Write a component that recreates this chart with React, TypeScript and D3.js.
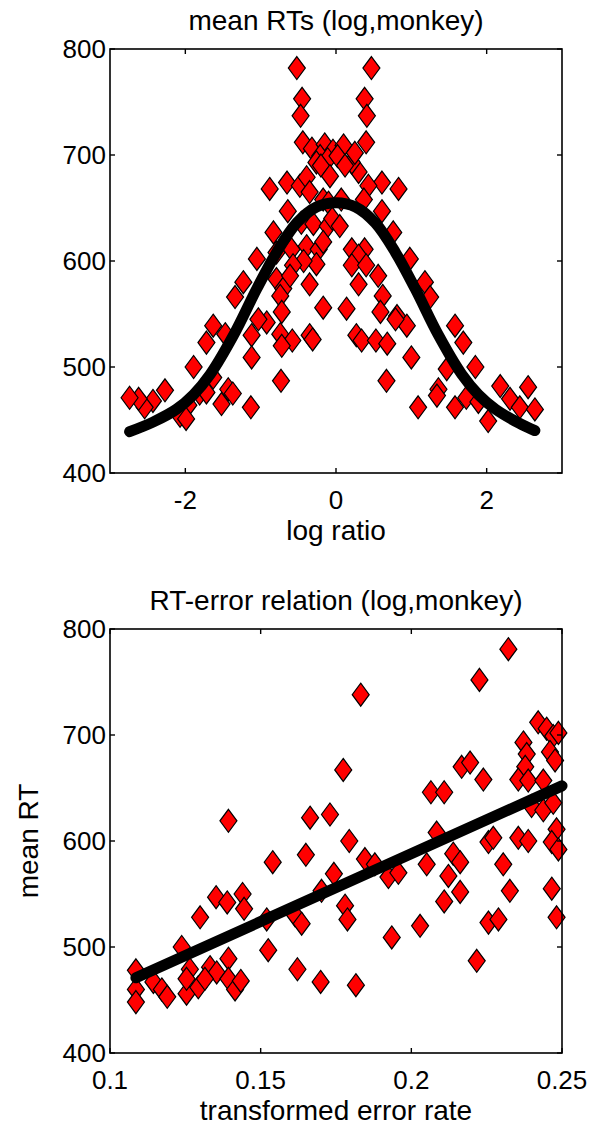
import React from "react";
import * as d3 from "d3";

// ---------- Top panel data: mean RT vs log ratio ----------
const topX = [
  -0.52, -0.45, -0.47, -0.44, -0.32, -0.15, -0.04, -0.21, -0.26, -0.11, -0.88, -0.65, -0.48, -0.39, -0.35, -0.17,
  -0.10, -0.64, -0.83, -0.46, -0.30, -0.11, -1.05, -0.79, -0.59, -0.39, -0.23, -0.26, -0.43, -0.57, -1.23, -1.34,
  -0.79, -0.70, -0.61, -0.35, -0.17, -0.74, -0.72, -0.92, -1.03, -1.63, -1.72, -1.47, -1.12, -0.74, -0.58, -0.35,
  -0.31, -0.72, -1.12, -1.89, -0.73, -1.63, -1.43, -1.37, -1.52, -1.81, -1.72, -1.96, -2.07, -1.99, -2.27, -2.43,
  -2.54, -2.62, -2.74, -1.13, -0.17, -0.05, -0.20, -0.08,
  0.47, 0.38, 0.41, 0.40, 0.10, 0.02, 0.30, 0.21, 0.61, 0.83, 0.43, 0.37, 0.61, 0.07, 0.05, 0.76,
  0.21, 0.38, 0.30, 0.98, 0.21, 0.40, 0.30, 0.56, 0.62, 1.18, 1.25, 0.14, 0.59, 0.81, 0.94, 0.27,
  0.34, 0.53, 0.68, 1.0, 1.58, 1.69, 1.47, 1.85, 0.67, 1.36, 1.34, 1.09, 1.58, 1.73, 1.89, 2.02,
  2.18, 2.31, 2.44, 2.55, 2.64, 0.79, 0.12, 0.25,
];
const topY = [
  782, 753, 737, 712, 706, 710, 704, 699, 693, 696, 668, 674, 671, 679, 665, 658,
  655, 647, 627, 636, 635, 633, 602, 608, 611, 614, 611, 597, 600, 596, 580, 566,
  583, 574, 586, 578, 556, 567, 552, 542, 545, 539, 523, 531, 530, 531, 525, 530,
  526, 520, 509, 500, 487, 490, 479, 475, 465, 475, 476, 464, 454, 451, 478, 468,
  462, 470, 471, 462, 618, 640, 690, 680,
  782, 753, 737, 712, 709, 699, 684, 693, 674, 668, 671, 658, 647, 658, 633, 627,
  611, 611, 605, 602, 596, 596, 578, 586, 567, 580, 566, 555, 552, 548, 539, 530,
  525, 525, 522, 509, 539, 523, 498, 500, 487, 479, 473, 462, 462, 471, 467, 449,
  482, 470, 462, 481, 460, 545, 690, 702,
];
const topFitX = [-2.74, -2.43, -2.12, -1.89, -1.67, -1.36, -1.05, -0.79, -0.52, -0.26, 0.0, 0.26, 0.52, 0.79, 1.05, 1.36, 1.67, 1.89, 2.12, 2.43, 2.64];
const topFitY = [439, 448, 460, 474, 493, 530, 574, 608, 636, 651, 655, 651, 636, 608, 574, 530, 493, 474, 460, 447, 440];

// ---------- Bottom panel data: mean RT vs transformed error rate ----------
const botX = [
  0.2322, 0.2226, 0.1832, 0.2421, 0.2449, 0.2471, 0.2488, 0.2372, 0.2383, 0.246, 0.2477, 0.2378, 0.1774, 0.2167, 0.2195, 0.2239,
  0.2355, 0.2388, 0.2438, 0.2065, 0.2109, 0.2399, 0.2438, 0.2471, 0.1393, 0.1664, 0.173, 0.2482, 0.2084, 0.1794, 0.2256, 0.2272,
  0.2355, 0.2388, 0.2466, 0.2488, 0.154, 0.165, 0.2139, 0.2162, 0.1846, 0.1879, 0.2051, 0.2305, 0.1743, 0.1924, 0.1957, 0.2123,
  0.2466, 0.2327, 0.2162, 0.1352, 0.1389, 0.144, 0.1445, 0.1702, 0.2109, 0.1299, 0.178, 0.1788, 0.152, 0.1614, 0.1636, 0.2256,
  0.2289, 0.2482, 0.2029, 0.1935, 0.1238, 0.1525, 0.1393, 0.2217, 0.1086, 0.1265, 0.1332, 0.1354, 0.1622, 0.1086, 0.1086, 0.1144,
  0.1172, 0.119, 0.1254, 0.1254, 0.1293, 0.1315, 0.1393, 0.1415, 0.1434, 0.1699, 0.1816,
];
const botY = [
  781, 752, 738, 712, 706, 699, 702, 693, 682, 684, 676, 670, 667, 670, 674, 658,
  658, 657, 657, 646, 646, 633, 629, 636, 619, 622, 625, 611, 608, 600, 599, 603,
  603, 600, 599, 592, 580, 587, 588, 580, 583, 578, 578, 578, 569, 566, 570, 567,
  555, 553, 552, 547, 542, 550, 536, 553, 543, 528, 539, 526, 526, 530, 522, 523,
  526, 528, 520, 509, 500, 497, 489, 487, 478, 479, 481, 476, 479, 460, 448, 467,
  460, 453, 456, 470, 462, 470, 470, 460, 468, 467, 464,
];
const botFitX = [0.1086, 0.25];
const botFitY = [471, 652];

// ---------- Axis ticks & labels ----------
const yTicks = [400, 500, 600, 700, 800];
const topXTicks = [-2, 0, 2];
const botXTicks = [0.1, 0.15, 0.2, 0.25];
const topTitle = "mean RTs (log,monkey)";
const topXLabel = "log ratio";
const botTitle = "RT-error relation (log,monkey)";
const botXLabel = "transformed error rate";
const botYLabel = "mean RT";

const W = 592;
const H = 1127;
const FONT = "'Liberation Sans', Arial, Helvetica, sans-serif";
const FS = 26;
const FS_LABEL = 28;

const plotLeft = 110;
const plotRight = 562;

function Diamond({ cx, cy }: { cx: number; cy: number }) {
  const hw = 8.5;
  const hh = 11.5;
  return (
    <path
      d={`M${cx},${cy - hh}L${cx + hw},${cy}L${cx},${cy + hh}L${cx - hw},${cy}Z`}
      fill="#ff0000"
      stroke="#000"
      strokeWidth={1.2}
    />
  );
}

function Panel({
  top,
  bottom,
  xDomain,
  xTicks,
  xFmt,
  xs,
  ys,
  fitX,
  fitY,
  curved,
  title,
  xLabel,
  yLabel,
}: any) {
  const x = d3.scaleLinear().domain(xDomain).range([plotLeft, plotRight]);
  const y = d3.scaleLinear().domain([400, 800]).range([bottom, top]);
  const line = d3
    .line<number>()
    .x((_, i) => x(fitX[i]))
    .y((d) => y(d))
    .curve(curved ? d3.curveCatmullRom : d3.curveLinear);
  const tl = 5;
  return (
    <g>
      <text x={(plotLeft + plotRight) / 2} y={top - 19} textAnchor="middle" fontSize={FS_LABEL} fontFamily={FONT}>
        {title}
      </text>
      {xs.map((v: number, i: number) => (
        <Diamond key={i} cx={x(v)} cy={y(ys[i])} />
      ))}
      <path d={line(fitY) || ""} fill="none" stroke="#000" strokeWidth={11} strokeLinecap="round" strokeLinejoin="round" />
      <rect x={plotLeft} y={top} width={plotRight - plotLeft} height={bottom - top} fill="none" stroke="#000" strokeWidth={1.6} />
      {yTicks.map((t) => (
        <g key={"y" + t}>
          <line x1={plotLeft} x2={plotLeft + tl} y1={y(t)} y2={y(t)} stroke="#000" strokeWidth={1.4} />
          <line x1={plotRight} x2={plotRight - tl} y1={y(t)} y2={y(t)} stroke="#000" strokeWidth={1.4} />
          <text x={plotLeft - 4} y={y(t) + 9} textAnchor="end" fontSize={FS} fontFamily={FONT}>
            {t}
          </text>
        </g>
      ))}
      {xTicks.map((t: number) => (
        <g key={"x" + t}>
          <line x1={x(t)} x2={x(t)} y1={bottom} y2={bottom - tl} stroke="#000" strokeWidth={1.4} />
          <line x1={x(t)} x2={x(t)} y1={top} y2={top + tl} stroke="#000" strokeWidth={1.4} />
          <text x={x(t)} y={bottom + 36} textAnchor="middle" fontSize={FS} fontFamily={FONT}>
            {xFmt(t)}
          </text>
        </g>
      ))}
      <text x={(plotLeft + plotRight) / 2} y={bottom + 67} textAnchor="middle" fontSize={FS_LABEL} fontFamily={FONT}>
        {xLabel}
      </text>
      {yLabel && (
        <text
          transform={`translate(38,${(top + bottom) / 2}) rotate(-90)`}
          textAnchor="middle"
          fontSize={FS_LABEL}
          fontFamily={FONT}
        >
          {yLabel}
        </text>
      )}
    </g>
  );
}

export default function App() {
  return (
    <svg width={W} height={H} style={{ position: "absolute", left: 0, top: 0, background: "#fff" }}>
      <rect width={W} height={H} fill="#fff" />
      <Panel
        top={49}
        bottom={473}
        xDomain={[-3, 3]}
        xTicks={topXTicks}
        xFmt={(t: number) => (t < 0 ? "-" + Math.abs(t) : String(t))}
        xs={topX}
        ys={topY}
        fitX={topFitX}
        fitY={topFitY}
        curved={true}
        title={topTitle}
        xLabel={topXLabel}
        yLabel={null}
      />
      <Panel
        top={629}
        bottom={1053}
        xDomain={[0.1, 0.25]}
        xTicks={botXTicks}
        xFmt={(t: number) => String(t)}
        xs={botX}
        ys={botY}
        fitX={botFitX}
        fitY={botFitY}
        curved={false}
        title={botTitle}
        xLabel={botXLabel}
        yLabel={botYLabel}
      />
    </svg>
  );
}
